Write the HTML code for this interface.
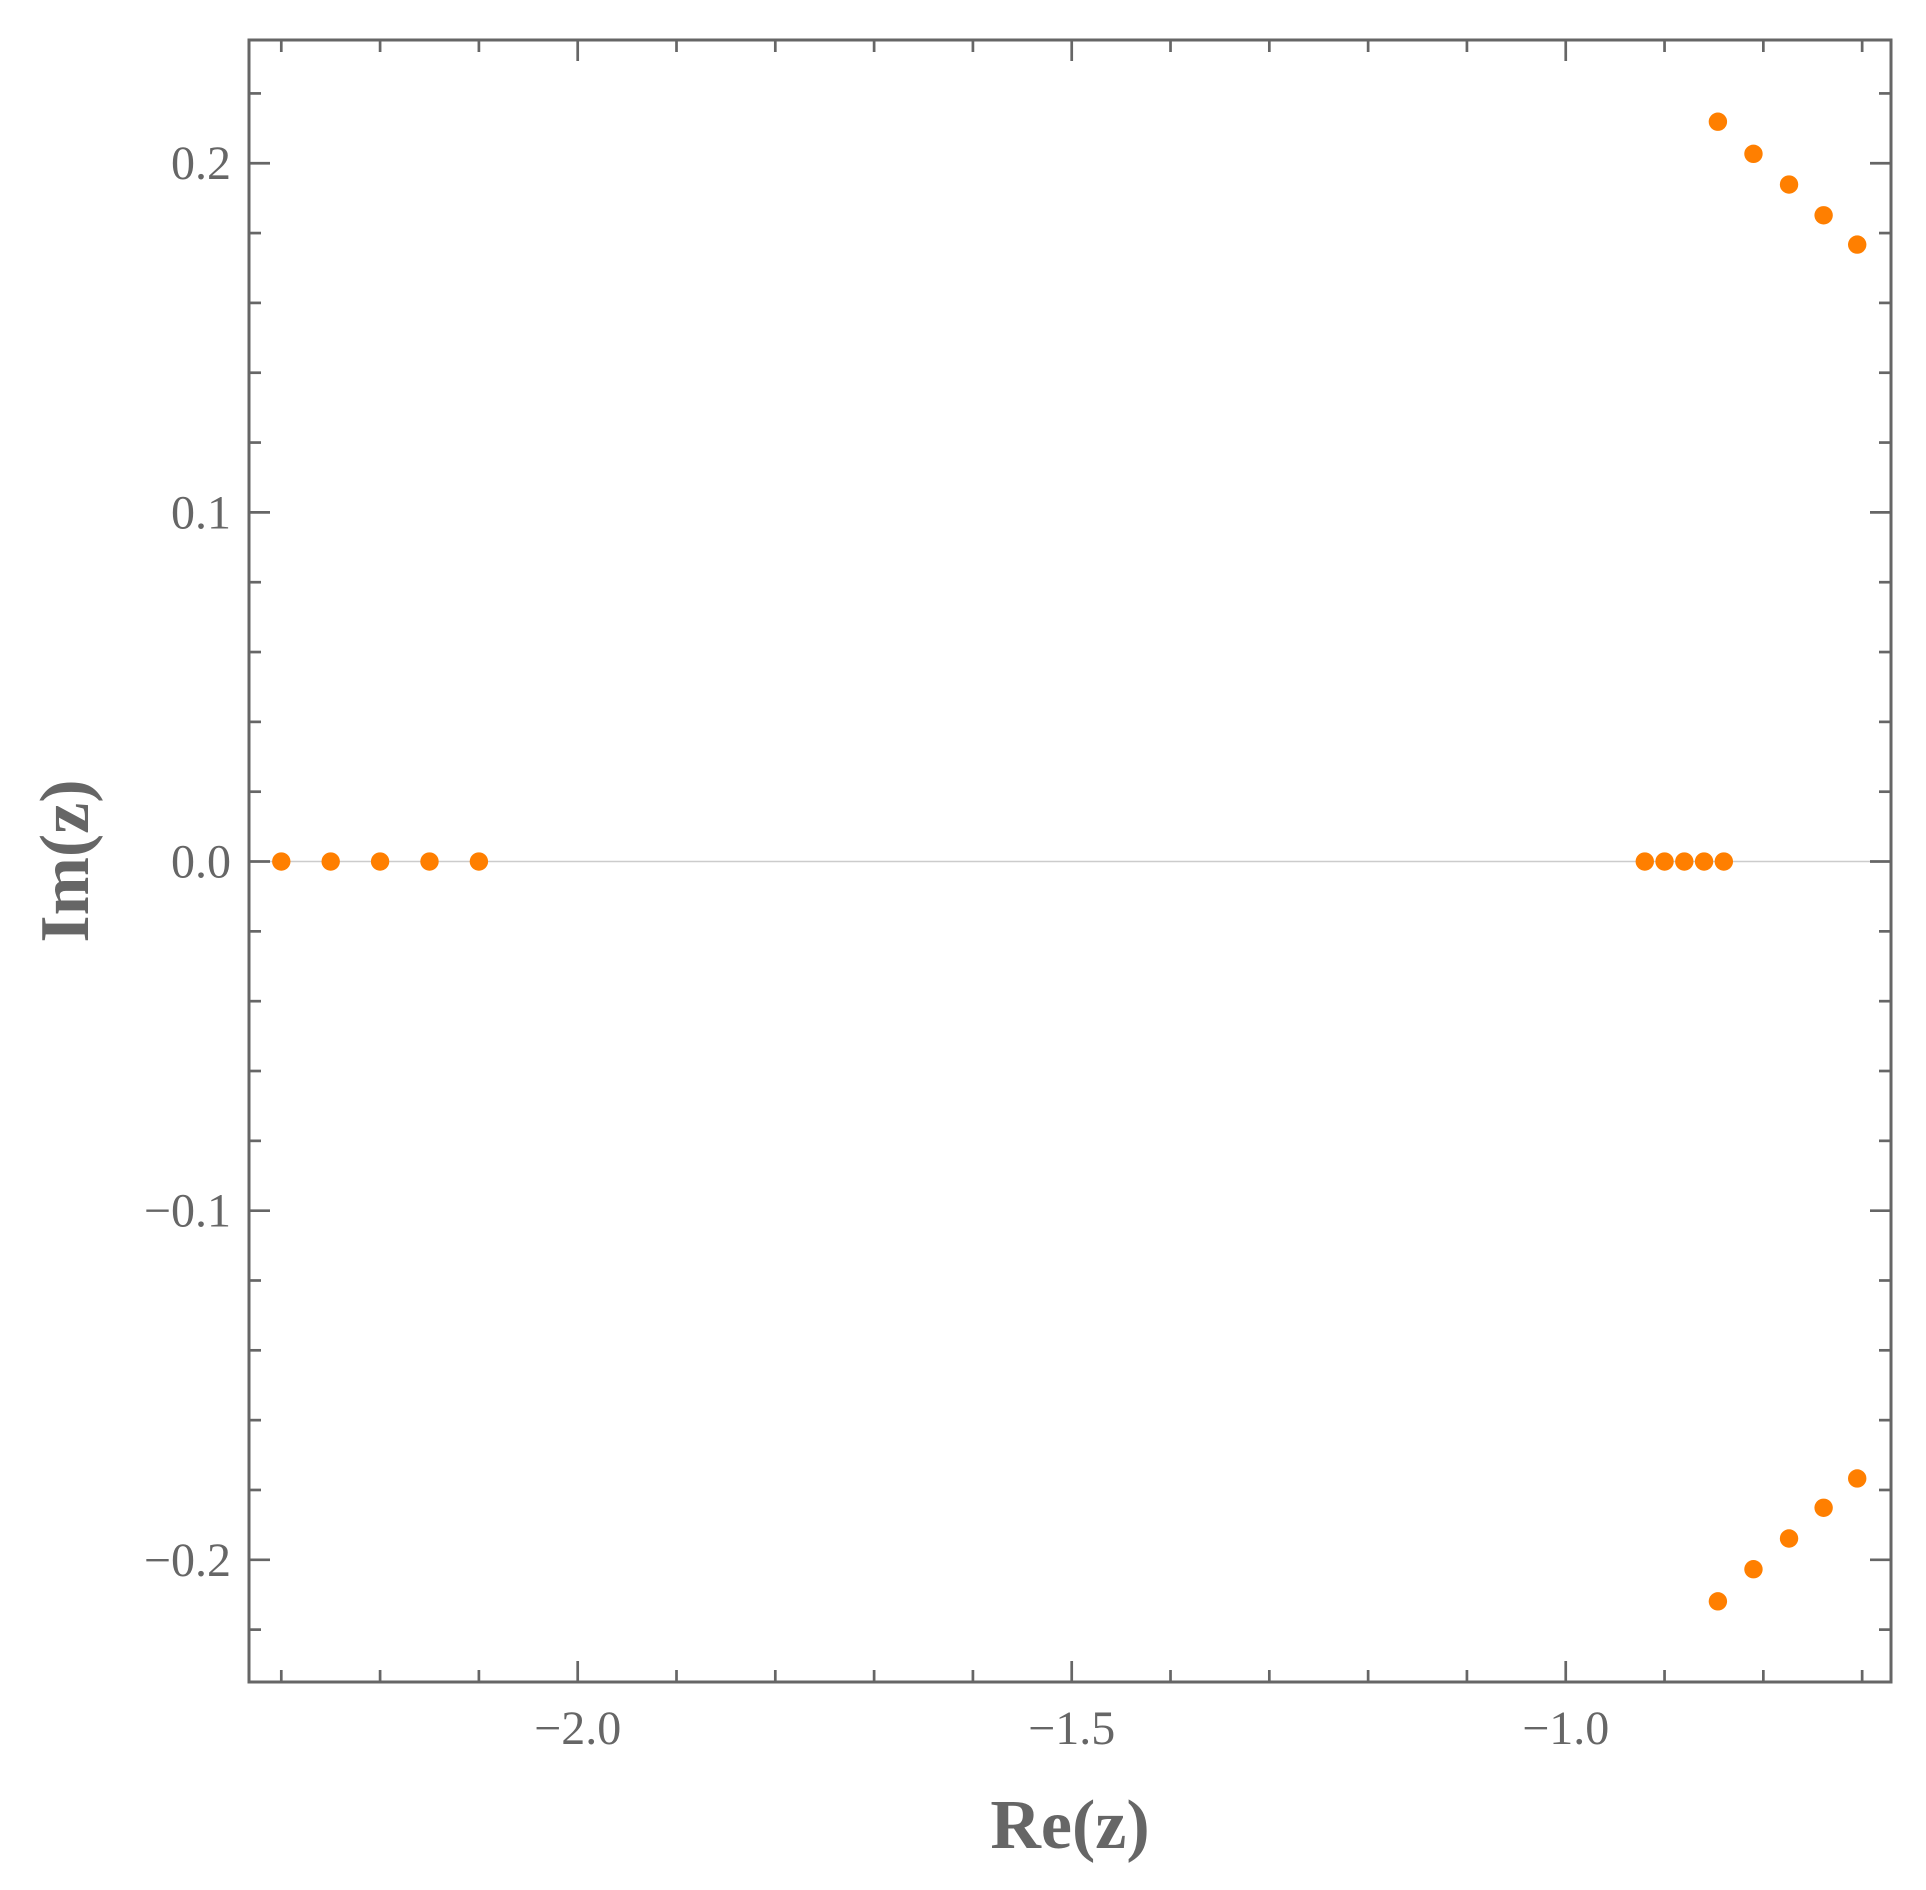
<!DOCTYPE html>
<html><head><meta charset="utf-8"><style>
html,body{margin:0;padding:0;background:#fff;}
svg{display:block;}
text{font-family:"Liberation Serif",serif;fill:#666;}
</style></head><body>
<svg id="chart" width="1926" height="1890" xmlns="http://www.w3.org/2000/svg">
<line id="zero-line" stroke="#cccccc" stroke-width="1.5"/>
<g id="ticks"></g>
<g id="points"></g>
<rect x="249" y="40" width="1642" height="1642" fill="none" stroke="#666" stroke-width="3"/>
<g id="labels"></g>
<text x="1070" y="1848" font-size="70" font-weight="bold" text-anchor="middle">Re(z)</text>
<text transform="translate(88,861) rotate(-90)" font-size="70" font-weight="bold" text-anchor="middle">Im(z)</text>
</svg>
<script>
const pointsRe = [-2.3,-2.25,-2.2,-2.15,-2.1,-0.92,-0.90,-0.88,-0.86,-0.84,-0.846,-0.810,-0.774,-0.739,-0.705,-0.846,-0.810,-0.774,-0.739,-0.705];
const pointsIm = [0,0,0,0,0,0,0,0,0,0,0.2119,0.2027,0.1939,0.1851,0.1767,-0.2119,-0.2027,-0.1939,-0.1851,-0.1767];
const xTickLabels = ["−2.0","−1.5","−1.0"];
const xTickValues = [-2.0,-1.5,-1.0];
const yTickLabels = ["−0.2","−0.1","0.0","0.1","0.2"];
const yTickValues = [-0.2,-0.1,0,0.1,0.2];

const X0=249,X1=1891,Y0=40,Y1=1682;
const xMin=-2.33268,xMax=-0.6708;
const yMin=-0.2350,yMax=0.2353;
function sx(v){return X0+(v-xMin)/(xMax-xMin)*(X1-X0);}
function sy(v){return Y1-(v-yMin)/(yMax-yMin)*(Y1-Y0);}
const NS="http://www.w3.org/2000/svg";
function mk(tag,attrs,parent){const e=document.createElementNS(NS,tag);for(const k in attrs)e.setAttribute(k,attrs[k]);parent.appendChild(e);return e;}

const zl=document.getElementById('zero-line');
zl.setAttribute('x1',X0);zl.setAttribute('x2',X1);zl.setAttribute('y1',sy(0));zl.setAttribute('y2',sy(0));

const tg=document.getElementById('ticks');
for(let i=-24;i<=-6;i++){
  const v=i/10; if(v<xMin||v>xMax) continue;
  const major=(i%5===0); const L=major?21:12; const x=sx(v);
  const t1=mk('line',{x1:x,x2:x,y1:Y1,y2:Y1-L,stroke:'#666','stroke-width':2.7},tg);
  
  
  const t2=mk('line',{x1:x,x2:x,y1:Y0,y2:Y0+L,stroke:'#666','stroke-width':2.7},tg);
  
  
}
for(let i=-12;i<=12;i++){
  const v=i/50; if(v<yMin||v>yMax) continue;
  const major=(i%5===0); const L=major?21:12; const y=sy(v);
  const t1=mk('line',{x1:X0,x2:X0+L,y1:y,y2:y,stroke:'#666','stroke-width':2.7},tg);
  
  
  const t2=mk('line',{x1:X1,x2:X1-L,y1:y,y2:y,stroke:'#666','stroke-width':2.7},tg);
  
  
}

const pg=document.getElementById('points');
for(let i=0;i<pointsRe.length;i++){
  const c=mk('circle',{cx:sx(pointsRe[i]),cy:sy(pointsIm[i]),r:9.2,fill:'#ff7f00'},pg);
  
  
}

const lg=document.getElementById('labels');
for(let i=0;i<xTickValues.length;i++){
  const t=mk('text',{x:sx(xTickValues[i]),y:1744,'font-size':48,'text-anchor':'middle'},lg);
  t.textContent=xTickLabels[i];
  
  
}
for(let i=0;i<yTickValues.length;i++){
  const t=mk('text',{x:231,y:sy(yTickValues[i])+16,'font-size':48,'text-anchor':'end'},lg);
  t.textContent=yTickLabels[i];
  
  
}
</script>
</body></html>
